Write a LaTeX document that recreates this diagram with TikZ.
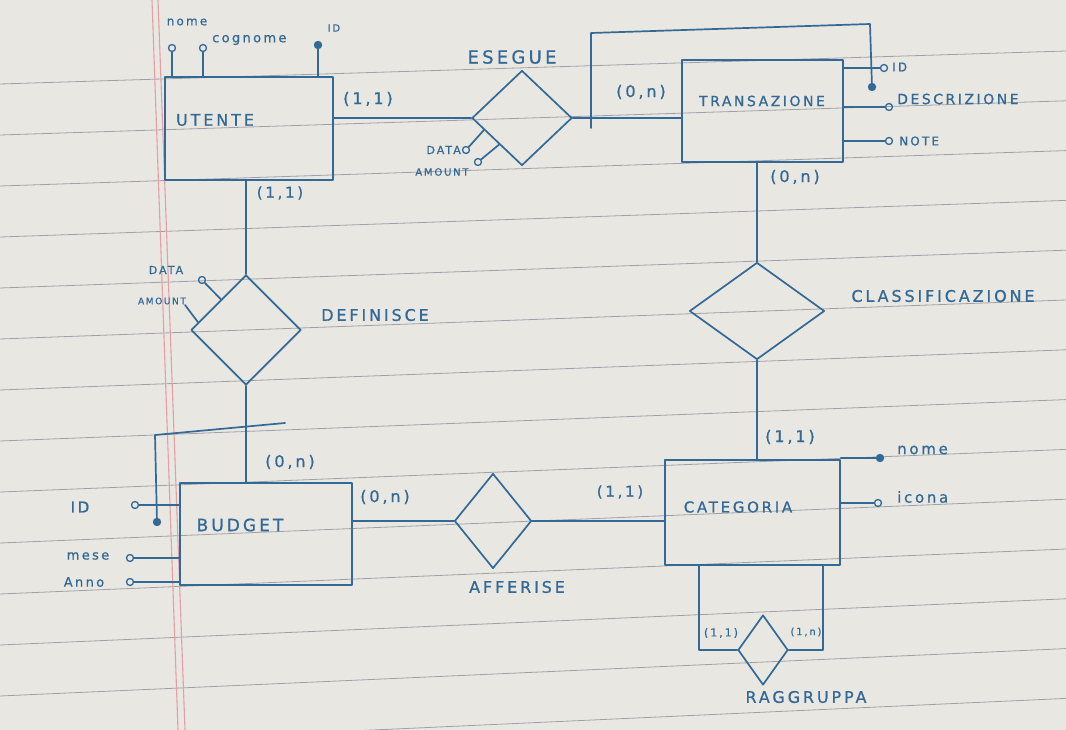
\documentclass[tikz,border=0pt]{standalone}
\usepackage{fontspec}
\usetikzlibrary{shapes.geometric,calc}
\newfontfamily\hand[LetterSpace=18,FakeBold=0.8]{DejaVu Sans}
\definecolor{paper}{RGB}{233,231,225}
\definecolor{rulec}{RGB}{158,161,170}
\definecolor{marginc}{RGB}{226,160,166}
\definecolor{ink}{RGB}{50,105,150}
\tikzset{
  inkline/.style={draw=ink, line width=1.7pt, line cap=round, line join=round},
  entity/.style={inkline, rectangle, inner sep=0pt},
  rel/.style={inkline, diamond, inner sep=0pt},
  attr/.style={inkline, circle, inner sep=0pt, minimum size=7pt, line width=1.3pt},
  keyattr/.style={attr, fill=ink},
  lbl/.style={text=ink, inner sep=0pt, font=\hand\fontsize{#1}{#1}\selectfont},
  lbl/.default=16,
  ruleline/.style={draw=rulec, line width=0.8pt},
  marginline/.style={draw=marginc, line width=1.1pt}
}
\begin{document}
\begin{tikzpicture}[x=1pt,y=-1pt]
\useasboundingbox (0,0) rectangle (1066,730);
% paper
\fill[paper] (0,0) rectangle (1066,730);
\foreach \i in {0,...,13} { \draw[ruleline] (0,{84+51*\i}) -- (1066,{51+49.8*\i}); }
\draw[marginline] (152,0) -- (178,730);
\draw[marginline] (158,0) -- (185,730);

% entities
\node[entity, minimum width=168pt, minimum height=103pt] (utente) at (249,128.5) {};
\node[lbl=16] (tutente) at (215,120) {UTENTE};
\node[entity, minimum width=161pt, minimum height=102pt] (transazione) at (762.5,111) {};
\node[lbl=14] (ttransazione) at (762,101) {TRANSAZIONE};
\node[entity, minimum width=175pt, minimum height=105pt] (categoria) at (752.5,512.5) {};
\node[lbl=15] (tcategoria) at (738,507) {CATEGORIA};
\node[entity, minimum width=172pt, minimum height=102pt] (budget) at (266,534) {};
\node[lbl=17] (tbudget) at (240,525) {BUDGET};

% relationships
\node[rel, minimum width=100pt, minimum height=95pt] (esegue) at (522,118) {};
\node[lbl=18] (tesegue) at (512,57) {ESEGUE};
\node[rel, minimum width=110pt, minimum height=110pt] (definisce) at (246,330) {};
\node[lbl=16] (tdefinisce) at (375,315) {DEFINISCE};
\node[rel, minimum width=135pt, minimum height=97pt] (classif) at (757,311) {};
\node[lbl=16] (tclassif) at (943,296) {CLASSIFICAZIONE};
\node[rel, minimum width=77pt, minimum height=95pt] (afferise) at (493,521) {};
\node[lbl=16] (tafferise) at (517,587) {AFFERISE};
\node[rel, minimum width=50pt, minimum height=70pt] (ragg) at (763,650) {};
\node[lbl=16] (tragg) at (806,697) {RAGGRUPPA};

% connectors
\draw[inkline] (esegue.west -| utente.east) -- (esegue.west);
\draw[inkline] (esegue.east) -- (esegue.east -| transazione.west);
\draw[inkline] (utente.south -| definisce.north) -- (definisce.north);
\draw[inkline] (definisce.south) -- (definisce.south |- budget.north);
\draw[inkline] (classif.north |- transazione.south) -- (classif.north);
\draw[inkline] (classif.south) -- (classif.south |- categoria.north);
\draw[inkline] (budget.east |- afferise.west) -- (afferise.west);
\draw[inkline] (afferise.east) -- (afferise.east -| categoria.west);
\draw[inkline] (ragg.west) -| ([xshift=35pt]categoria.south west);
\draw[inkline] (ragg.east) -| ([xshift=-18pt]categoria.south east);

% external identifiers
\coordinate (tb1) at (591,128);
\coordinate (tb2) at (591,33);
\coordinate (tb3) at (870,24);
\node[keyattr] (tkey) at (872,87) {};
\draw[inkline] (tb1) -- (tb2) -- (tb3) -- (tkey);
\coordinate (bb1) at (285,423);
\coordinate (bb2) at (155,435);
\node[keyattr] (bkey) at (157,522) {};
\draw[inkline] (bb1) -- (bb2) -- (bkey);

% cardinalities
\node[lbl=16] (c1) at (368,99) {(1,1)};
\node[lbl=16] (c2) at (641,92) {(0,n)};
\node[lbl=15] (c3) at (280,193) {(1,1)};
\node[lbl=16] (c4) at (795,177) {(0,n)};
\node[lbl=16] (c5) at (790,437) {(1,1)};
\node[lbl=16] (c6) at (290,462) {(0,n)};
\node[lbl=16] (c7) at (385,497) {(0,n)};
\node[lbl=15] (c8) at (620,492) {(1,1)};
\node[lbl=11] (c9) at (721,633) {(1,1)};
\node[lbl=10] (c10) at (806,632) {(1,n)};

% UTENTE attributes
\node[attr] (unome) at (172,48) {};
\draw[inkline] (unome) -- (unome |- utente.north);
\node[lbl=12] (tunome) at (187,22) {nome};
\node[attr] (ucogn) at (203,48) {};
\draw[inkline] (ucogn) -- (ucogn |- utente.north);
\node[lbl=13, anchor=west] (tucogn) at (212,40) {cognome};
\node[keyattr] (uid) at (318,45) {};
\draw[inkline] (uid) -- (uid |- utente.north);
\node[lbl=10] (tuid) at (334,28) {ID};

% ESEGUE attributes
\node[attr] (edata) at (466,150) {};
\draw[inkline] ($(esegue.west)!0.25!(esegue.south)$) -- (edata);
\node[lbl=11, anchor=east] (tedata) at (461,150) {DATA};
\node[attr] (eamount) at (478,162) {};
\draw[inkline] ($(esegue.west)!0.55!(esegue.south)$) -- (eamount);
\node[lbl=10] (teamount) at (442,172) {AMOUNT};

% TRANSAZIONE attributes
\node[attr] (tid) at (884,68) {};
\draw[inkline] (tid) -- (tid -| transazione.east);
\node[lbl=12, anchor=west] (ttid) at (892,67) {ID};
\node[attr] (tdesc) at (889,107) {};
\draw[inkline] (tdesc) -- (tdesc -| transazione.east);
\node[lbl=14, anchor=west] (ttdesc) at (897,99) {DESCRIZIONE};
\node[attr] (tnote) at (889,141) {};
\draw[inkline] (tnote) -- (tnote -| transazione.east);
\node[lbl=12, anchor=west] (ttnote) at (899,141) {NOTE};

% DEFINISCE attributes
\node[attr] (ddata) at (202,280) {};
\draw[inkline] ($(definisce.north)!0.45!(definisce.west)$) -- (ddata);
\node[lbl=11] (tddata) at (166,270) {DATA};
\coordinate (damount) at (185,305);
\draw[inkline] ($(definisce.north)!0.86!(definisce.west)$) -- (damount);
\node[lbl=9] (tdamount) at (162,301) {AMOUNT};

% BUDGET attributes
\node[attr] (bid) at (135,505) {};
\draw[inkline] (bid) -- (bid -| budget.west);
\node[lbl=15] (tbid) at (80,507) {ID};
\node[attr] (bmese) at (130,558) {};
\draw[inkline] (bmese) -- (bmese -| budget.west);
\node[lbl=13] (tbmese) at (88,556) {mese};
\node[attr] (banno) at (130,582) {};
\draw[inkline] (banno) -- (banno -| budget.west);
\node[lbl=13] (tbanno) at (84,582) {Anno};

% CATEGORIA attributes
\node[keyattr] (cnome) at (880,458) {};
\draw[inkline] (cnome) -- (cnome -| categoria.east);
\node[lbl=15, anchor=west] (tcnome) at (897,450) {nome};
\node[attr] (cicona) at (878,503) {};
\draw[inkline] (cicona) -- (cicona -| categoria.east);
\node[lbl=15, anchor=west] (tcicona) at (897,497) {icona};
\end{tikzpicture}
\end{document}
